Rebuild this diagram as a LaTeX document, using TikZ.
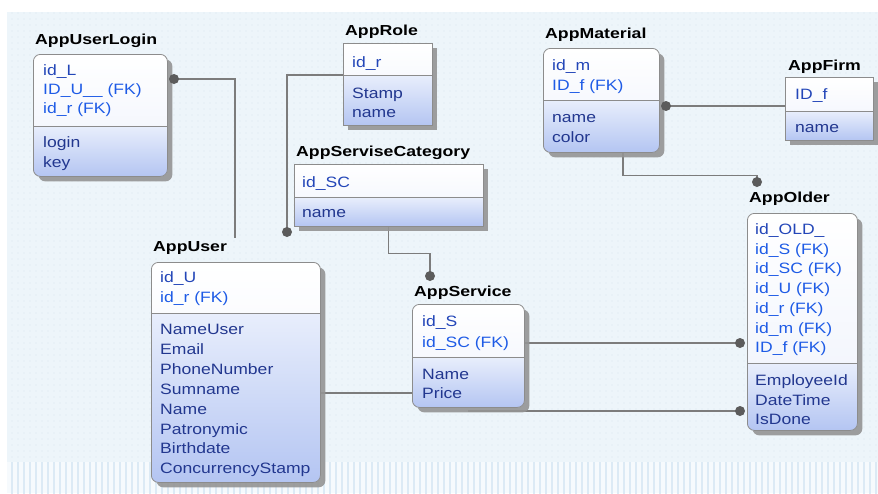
\documentclass[tikz,border=0pt]{standalone}
\usepackage{fontspec}
\setmainfont{Liberation Sans}
\newfontfamily\rowfont[FakeStretch=1.17]{Liberation Sans}
\newfontfamily\headfont[FakeStretch=1.22]{Liberation Sans}
\usetikzlibrary{shadows,calc,patterns.meta}

\definecolor{pkc}{HTML}{2346B8}
\definecolor{fkc}{HTML}{1E5BE6}
\definecolor{atc}{HTML}{22378F}
\definecolor{edgec}{HTML}{8C8C8C}
\definecolor{connc}{HTML}{7C7C7C}
\definecolor{dotc}{HTML}{5C5C5C}
\definecolor{bgc}{HTML}{EDF5FA}
\definecolor{bgdot}{HTML}{D9E7F1}
\definecolor{stripebg}{HTML}{F6FAFD}
\definecolor{stripec}{HTML}{DCEAF5}
\definecolor{keybot}{HTML}{EEF2FC}
\definecolor{attrtop}{HTML}{E8EEFC}
\definecolor{attrbot}{HTML}{B4C5F2}

\pgfdeclarelayer{bg}
\pgfdeclarelayer{lines}
\pgfsetlayers{bg,lines,main}

\tikzset{
  % entity box: width, height, depth of the key compartment
  tbl/.style n args={3}{
    draw=edgec, line width=0.8pt, fill=white, rounded corners=7pt,
    inner sep=0pt, anchor=north west,
    minimum width=#1, minimum height=#2,
    drop shadow={shadow xshift=5pt, shadow yshift=-5pt, fill=black!42, opacity=0.9},
    path picture={
      \shade[sharp corners, top color=white, bottom color=keybot]
        (path picture bounding box.north west) rectangle
        ([yshift=-#3pt]path picture bounding box.north east);
      \shade[sharp corners, top color=attrtop, bottom color=attrbot]
        ([yshift=-#3pt]path picture bounding box.north west) rectangle
        (path picture bounding box.south east);
      \draw[sharp corners, edgec, line width=0.8pt]
        ([yshift=-#3pt]path picture bounding box.north west) --
        ([yshift=-#3pt]path picture bounding box.north east);
    }},
  title/.style={anchor=west, inner sep=0pt, font=\headfont\bfseries\fontsize{14.5}{16}\selectfont},
  row/.style={anchor=base west, inner sep=0pt, font=\rowfont\fontsize{15}{18}\selectfont},
  conn/.style={draw=connc, line width=1.1pt},
  dotnode/.style={circle, fill=dotc, inner sep=0pt, minimum size=10pt},
}

\begin{document}
\begin{tikzpicture}[x=1pt, y=-1pt]
\useasboundingbox (0,0) rectangle (878,493);

% canvas
\begin{pgfonlayer}{bg}
  \fill[white] (0,0) rectangle (878,493);
  \fill[bgc] (7,12) rectangle (878,462);
  \fill[pattern={Dots[distance=6pt, radius=0.55pt]}, pattern color=bgdot] (7,12) rectangle (878,462);
  \fill[stripebg] (7,462) rectangle (878,493);
  \fill[pattern={Lines[angle=90, distance=6pt, line width=2.5pt]}, pattern color=stripec] (7,462) rectangle (878,493);
\end{pgfonlayer}

% ---------- entities ----------
% AppUserLogin
\node[tbl={134pt}{122pt}{72}] (login) at (33,54) {};
\node[title] (login-t) at (35,41) {AppUserLogin};
\foreach \t/\c [count=\i] in {{id\_L}/pkc, {ID\_U\_\_ (FK)}/fkc, {id\_r (FK)}/fkc}
  \node[row, text=\c] (login-k\i) at (43, {75.5+19*(\i-1)}) {\t};
\foreach \t [count=\i] in {login, key}
  \node[row, text=atc] (login-a\i) at (43, {147.5+20*(\i-1)}) {\t};

% AppRole
\node[tbl={89pt}{82pt}{32}, sharp corners] (role) at (343,43) {};
\node[title] (role-t) at (345,32) {AppRole};
\node[row, text=pkc] (role-k1) at (352,67.5) {id\_r};
\foreach \t [count=\i] in {Stamp, name}
  \node[row, text=atc] (role-a\i) at (352, {98.5+19*(\i-1)}) {\t};

% AppServiseCategory
\node[tbl={189pt}{62pt}{33}, sharp corners] (cat) at (294,164) {};
\node[title] (cat-t) at (296,153) {AppServiseCategory};
\node[row, text=pkc] (cat-k1) at (302,187.5) {id\_SC};
\node[row, text=atc] (cat-a1) at (302,217.5) {name};

% AppMaterial
\node[tbl={116pt}{104pt}{52}] (mat) at (543,48) {};
\node[title] (mat-t) at (545,35) {AppMaterial};
\foreach \t/\c [count=\i] in {{id\_m}/pkc, {ID\_f (FK)}/fkc}
  \node[row, text=\c] (mat-k\i) at (552, {70.5+20*(\i-1)}) {\t};
\foreach \t [count=\i] in {name, color}
  \node[row, text=atc] (mat-a\i) at (552, {122.5+20*(\i-1)}) {\t};

% AppFirm
\node[tbl={88pt}{63pt}{34}, sharp corners] (firm) at (785,77) {};
\node[title] (firm-t) at (788,67) {AppFirm};
\node[row, text=pkc] (firm-k1) at (795,99.5) {ID\_f};
\node[row, text=atc] (firm-a1) at (795,132.5) {name};

% AppOlder
\node[tbl={110pt}{217pt}{150}] (older) at (747,213) {};
\node[title] (older-t) at (749,199) {AppOlder};
\foreach \t/\c [count=\i] in {{id\_OLD\_}/pkc, {id\_S (FK)}/fkc, {id\_SC (FK)}/fkc,
    {id\_U (FK)}/fkc, {id\_r (FK)}/fkc, {id\_m (FK)}/fkc, {ID\_f (FK)}/fkc}
  \node[row, text=\c] (older-k\i) at (755, {234.5+19.7*(\i-1)}) {\t};
\foreach \t [count=\i] in {EmployeeId, DateTime, IsDone}
  \node[row, text=atc] (older-a\i) at (755, {385.5+19.5*(\i-1)}) {\t};

% AppUser
\node[tbl={169pt}{220pt}{51}] (user) at (151,262) {};
\node[title] (user-t) at (153,248) {AppUser};
\foreach \t/\c [count=\i] in {{id\_U}/pkc, {id\_r (FK)}/fkc}
  \node[row, text=\c] (user-k\i) at (160, {282.5+20*(\i-1)}) {\t};
\foreach \t [count=\i] in {NameUser, Email, PhoneNumber, Sumname, Name,
    Patronymic, Birthdate, ConcurrencyStamp}
  \node[row, text=atc] (user-a\i) at (160, {334.5+19.9*(\i-1)}) {\t};

% AppService
\node[tbl={112pt}{103pt}{53}] (service) at (412,304) {};
\node[title] (service-t) at (414,293) {AppService};
\foreach \t/\c [count=\i] in {{id\_S}/pkc, {id\_SC (FK)}/fkc}
  \node[row, text=\c] (service-k\i) at (422, {326.5+21*(\i-1)}) {\t};
\foreach \t [count=\i] in {Name, Price}
  \node[row, text=atc] (service-a\i) at (422, {379.5+19*(\i-1)}) {\t};

% ---------- relationship ends ----------
\node[dotnode] (d1) at (174,79) {};
\node[dotnode] (d2) at (287,232) {};
\node[dotnode] (d3) at (430,276) {};
\node[dotnode] (d4) at (666,106) {};
\node[dotnode] (d5) at (757,182) {};
\node[dotnode] (d6) at (740,343) {};
\node[dotnode] (d7) at (740,411) {};
\coordinate (e1) at (235,238);
\coordinate (j8) at (0,393);

% ---------- relationships ----------
\begin{pgfonlayer}{lines}
  \draw[conn] (d1.center) -| (e1);
  \draw[conn] ($(role.north west)+(0,32)$) -| (d2.center);
  \draw[conn] (cat.south) -- ++(0,27) -| (d3.center);
  \draw[conn] (d4.center) -- (d4 -| firm.west);
  \draw[conn] ($(mat.south west)+(80,0)$) -- ++(0,23) -| (d5.center);
  \draw[conn] (service.east |- d6) -- (d6.center);
  \draw[conn] (service.south |- d7) -- (d7.center);
  \draw[conn] (user.east |- j8) -- (service.west |- j8);
\end{pgfonlayer}
\end{tikzpicture}
\end{document}
